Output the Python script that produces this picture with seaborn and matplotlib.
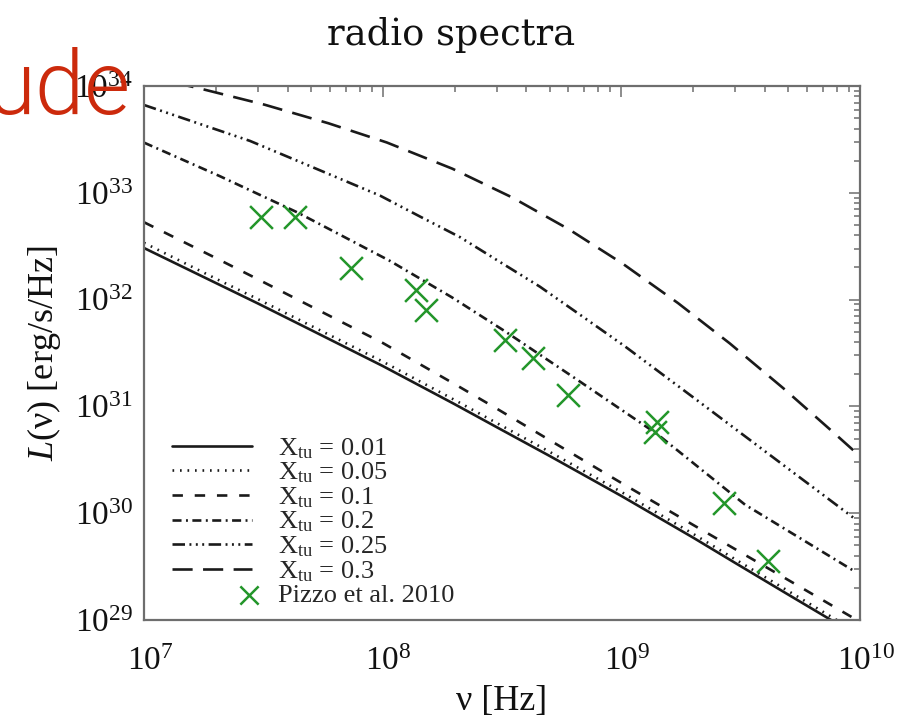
import matplotlib
matplotlib.use("Agg")
import matplotlib.pyplot as plt
import matplotlib.transforms as mtransforms
from matplotlib.legend_handler import HandlerPathCollection
from matplotlib.ticker import LogLocator, NullFormatter
import numpy as np
import pandas as pd
import seaborn as sns

# Model spectra L(nu) [erg/s/Hz] for each turbulent fraction X_tu
nu_low = [1e7, 2e7, 3e7, 5e7, 1e8, 2e8, 3e8, 5e8, 1e9, 2e9, 3e9, 5e9, 1e10]
L_x001 = [3.04e32, 1.43e32, 9.2e31, 5.2e31, 2.39e31, 1.05e31, 6.4e30, 3.44e30,
          1.45e30, 5.9e29, 3.42e29, 1.73e29, 6.9e28]
L_x005 = [3.4e32, 1.57e32, 1.01e32, 5.7e31, 2.63e31, 1.15e31, 7.0e30, 3.76e30,
          1.58e30, 6.4e29, 3.7e29, 1.87e29, 7.4e28]
L_x01 = [5.3e32, 2.45e32, 1.55e32, 8.65e31, 3.93e31, 1.62e31, 9.55e30, 4.84e30,
         1.92e30, 7.76e29, 4.6e29, 2.37e29, 9.6e28]

nu_x02 = [1.0e7, 2.08e7, 4.38e7, 1.07e8, 1.95e8, 3.25e8, 6.5e8, 1.42e9, 3.3e9, 9.5e9]
L_x02 = [2.95e33, 1.43e33, 6.57e32, 2.31e32, 1.05e32, 5.06e31, 1.79e31, 5.46e30,
         1.2e30, 2.85e29]

nu_x025 = [1.0e7, 1.67e7, 2.78e7, 5.2e7, 9.74e7, 1.43e8, 2.11e8, 3.1e8, 4.56e8,
           6.91e8, 1.035e9, 2.135e9, 4.62e9, 9.43e9]
L_x025 = [6.64e33, 4.5e33, 3.06e33, 1.7e33, 9.42e32, 6.01e32, 3.84e32, 2.25e32,
          1.32e32, 6.89e31, 3.65e31, 1.09e31, 2.98e30, 9.0e29]

nu_x03 = [1.0e7, 1.73e7, 3.21e7, 5.92e7, 1.04e8, 1.96e8, 3.49e8, 6.03e8, 1.01e9,
          1.73e9, 2.85e9, 4.77e9, 7.85e9, 1.0e10]
L_x03 = [1.25e34, 9.43e33, 6.67e33, 4.48e33, 2.96e33, 1.68e33, 9.04e32, 4.55e32,
         2.18e32, 9.25e31, 3.88e31, 1.48e31, 5.54e30, 3.41e30]

model_nu = [nu_low, nu_low, nu_low, nu_x02, nu_x025, nu_x03]
model_L = [L_x001, L_x005, L_x01, L_x02, L_x025, L_x03]
model_labels = [r"X$_{\rm tu}$ = 0.01", r"X$_{\rm tu}$ = 0.05", r"X$_{\rm tu}$ = 0.1",
                r"X$_{\rm tu}$ = 0.2", r"X$_{\rm tu}$ = 0.25", r"X$_{\rm tu}$ = 0.3"]

# Observed radio spectrum (Pizzo et al. 2010)
nu_obs = [3.1e7, 4.3e7, 7.4e7, 1.38e8, 1.52e8, 3.25e8, 4.25e8, 6.0e8,
          1.41e9, 1.38e9, 2.7e9, 4.1e9]
L_obs = [5.9e32, 5.9e32, 1.98e32, 1.23e32, 8.0e31, 4.2e31, 2.84e31, 1.28e31,
         7.1e30, 5.75e30, 1.25e30, 3.6e29]

x_ticks = [1e7, 1e8, 1e9, 1e10]
x_ticklabels = [r"$10^{7}$", r"$10^{8}$", r"$10^{9}$", r"$10^{10}$"]
y_ticks = [1e29, 1e30, 1e31, 1e32, 1e33, 1e34]
y_ticklabels = [r"$10^{29}$", r"$10^{30}$", r"$10^{31}$", r"$10^{32}$",
                r"$10^{33}$", r"$10^{34}$"]

sns.set_style("white")
plt.rcParams["font.family"] = ["Liberation Serif", "DejaVu Serif"]
plt.rcParams["mathtext.fontset"] = "custom"
plt.rcParams["mathtext.rm"] = "Liberation Serif"
plt.rcParams["mathtext.it"] = "Liberation Serif:italic"
plt.rcParams["mathtext.bf"] = "Liberation Serif:bold"
plt.rcParams["lines.scale_dashes"] = False

ink = "#1a1a1a"
spine_col = "#6e6e6e"
text_col = "#111111"
green = "#23962a"

# IDL-like line styles (on/off lengths in points)
styles = [
    "-",
    (0, (1.2, 4.2)),
    (0, (7.5, 8.5)),
    (0, (6.5, 3.2, 1.4, 3.2)),
    (0, (9.0, 3.2, 1.4, 3.2, 1.4, 3.2, 1.4, 3.2)),
    (0, (14.5, 7.5)),
]

fig = plt.figure(figsize=(9.03, 7.27), dpi=100)
ax = fig.add_axes([0.1595, 0.1472, 0.7929, 0.7345])
ax.set_xscale("log")
ax.set_yscale("log")

for nu, L, lab, ls in zip(model_nu, model_L, model_labels, styles):
    df = pd.DataFrame({"nu": nu, "L": L})
    sns.lineplot(data=df, x="nu", y="L", ax=ax, color=ink, linewidth=1.9,
                 linestyle=ls, label=lab, sort=True, estimator=None)

obs = pd.DataFrame({"nu": nu_obs, "L": L_obs})
sns.scatterplot(data=obs, x="nu", y="L", ax=ax, marker="x", s=270,
                color=green, linewidth=1.8, label="Pizzo et al. 2010", zorder=5)

ax.set_xlim(1e7, 1e10)
ax.set_ylim(1e29, 1e34)

ax.set_xticks(x_ticks)
ax.set_xticklabels(x_ticklabels)
ax.set_yticks(y_ticks)
ax.set_yticklabels(y_ticklabels)
ax.xaxis.set_minor_locator(LogLocator(base=10, subs=np.arange(2, 10)))
ax.yaxis.set_minor_locator(LogLocator(base=10, subs=np.arange(2, 10)))
ax.xaxis.set_minor_formatter(NullFormatter())
ax.yaxis.set_minor_formatter(NullFormatter())

ax.tick_params(which="both", direction="in", top=True, right=True,
               color=spine_col, width=1.1)
ax.tick_params(which="major", length=8, labelsize=24, pad=8, labelcolor=text_col)
ax.tick_params(axis="x", which="major", pad=19)
ax.tick_params(which="minor", length=4)
for sp in ax.spines.values():
    sp.set_color(spine_col)
    sp.set_linewidth(1.6)

# x labels: centre the "10" on the tick, exponent hanging to the right
shift = mtransforms.ScaledTranslation(6 / 100, 0, fig.dpi_scale_trans)
for lbl in ax.get_xticklabels():
    lbl.set_transform(lbl.get_transform() + shift)

ax.set_xlabel("ν [Hz]", fontsize=26, labelpad=6, color=text_col)
ax.set_ylabel(r"$L$(ν) [erg/s/Hz]", fontsize=26, labelpad=8, color=text_col)
fig.text(0.5, 1 - 45 / 727, "radio spectra", ha="center", va="baseline",
         fontsize=26.5, color=text_col, family=["DejaVu Serif"])


class RightMarkerHandler(HandlerPathCollection):
    """Place a single legend marker at the right end of the handle."""

    def get_xdata(self, legend, xdescent, ydescent, width, height, fontsize):
        xdata = np.array([-xdescent, -xdescent + width], float)
        xdata_marker = np.array([-xdescent + width - 0.1 * fontsize], float)
        return xdata, xdata_marker


handles, labels = ax.get_legend_handles_labels()
handler_map = {handles[-1]: RightMarkerHandler(numpoints=1)}
leg = ax.legend(handles, labels, loc="lower left", bbox_to_anchor=(0.039, 0.024),
                frameon=False, fontsize=19, handlelength=3.03, handletextpad=0.98,
                labelspacing=0.0, borderaxespad=0.0, borderpad=0.0,
                markerscale=0.8, handler_map=handler_map)

# Slide heading fragment overlapping the top-left corner
fig.text(131 / 903, 1 - 114 / 727, "ude", ha="right", va="baseline",
         fontsize=64, color="#cc2a0c", family=["Roboto", "Liberation Sans"],
         fontweight=300)

fig.savefig("out.png", dpi=100)
